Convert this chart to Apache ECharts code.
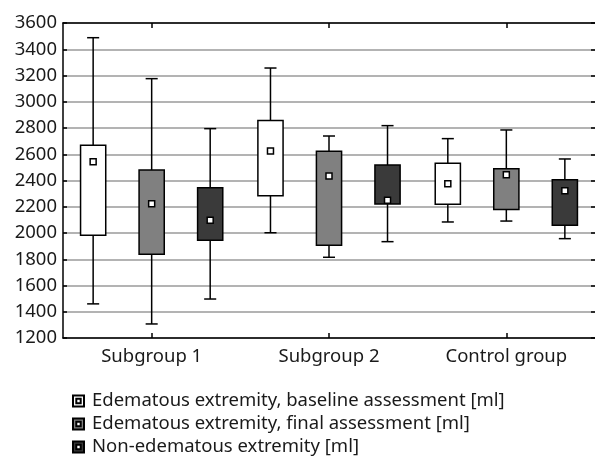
<!DOCTYPE html>
<html>
<head>
<meta charset="utf-8">
<script src="https://cdn.jsdelivr.net/npm/echarts@6/dist/echarts.min.js"></script>
<style>html,body{margin:0;padding:0;background:#fff}#c{width:595px;height:460px}</style>
</head>
<body>
<div id="c"></div>
<script>
const categories = ['Subgroup 1', 'Subgroup 2', 'Control group'];
const seriesNames = [
  'Edematous extremity, baseline assessment [ml]',
  'Edematous extremity, final assessment [ml]',
  'Non-edematous extremity [ml]'
];
// each row: [min, q1, q3, max, mean] per category
const baseline = [
  [1460, 1982, 2668, 3488, 2543],
  [2002, 2284, 2858, 3257, 2625],
  [2084, 2219, 2531, 2719, 2376]
];
const finalAssess = [
  [1307, 1838, 2480, 3176, 2223],
  [1815, 1906, 2622, 2739, 2434],
  [2091, 2180, 2490, 2785, 2444]
];
const nonEdematous = [
  [1497, 1944, 2345, 2795, 2097],
  [1934, 2221, 2518, 2818, 2249],
  [1957, 2059, 2406, 2564, 2322]
];
const yTicks = { min: 1200, max: 3600, interval: 200 };

const allData = [baseline, finalAssess, nonEdematous];
const fills = ['#ffffff', '#808080', '#3a3a3a'];
const offsets = [-0.33, 0, 0.33];

function renderItem(params, api) {
  const cat = api.value(0);
  const band = api.size([1, 0])[0];
  const off = offsets[params.seriesIndex] * band;
  const bw = band * 0.142;
  const cw = band * 0.068;
  const x = api.coord([cat, api.value(1)])[0] + off;
  const yMin = api.coord([cat, api.value(1)])[1];
  const yQ1 = api.coord([cat, api.value(2)])[1];
  const yQ3 = api.coord([cat, api.value(3)])[1];
  const yMax = api.coord([cat, api.value(4)])[1];
  const yMean = api.coord([cat, api.value(5)])[1];
  const ls = { stroke: '#000', lineWidth: 1.5 };
  return {
    type: 'group',
    children: [
      { type: 'line', shape: { x1: x, y1: yMax, x2: x, y2: yQ3 }, style: ls },
      { type: 'line', shape: { x1: x, y1: yQ1, x2: x, y2: yMin }, style: ls },
      { type: 'line', shape: { x1: x - cw / 2, y1: yMax, x2: x + cw / 2, y2: yMax }, style: ls },
      { type: 'line', shape: { x1: x - cw / 2, y1: yMin, x2: x + cw / 2, y2: yMin }, style: ls },
      { type: 'rect', shape: { x: x - bw / 2, y: yQ3, width: bw, height: yQ1 - yQ3 },
        style: { fill: fills[params.seriesIndex], stroke: '#000', lineWidth: 1.5 } },
      { type: 'rect', shape: { x: x - 3, y: yMean - 3, width: 6, height: 6 },
        style: { fill: '#fff', stroke: '#000', lineWidth: 1.5 } }
    ]
  };
}

const series = seriesNames.map((name, i) => ({
  name: name,
  type: 'custom',
  renderItem: renderItem,
  itemStyle: { color: fills[i], borderColor: '#000', borderWidth: 1 },
  encode: { x: 0, y: [1, 2, 3, 4, 5] },
  data: allData[i].map((r, ci) => [ci].concat(r))
}));

const chart = echarts.init(document.getElementById('c'), null, { renderer: 'canvas' });
const font = 'Noto Sans';
chart.setOption({
  animation: false,
  backgroundColor: '#fff',
  grid: { left: 63, right: 0, top: 23, bottom: 122 },
  legend: {
    orient: 'vertical',
    left: 72,
    top: 391,
    padding: 0,
    itemWidth: 11,
    itemHeight: 11,
    itemGap: 3,
    icon: 'path://M0 0H10V10H0Z M3 3V7H7V3Z',
    textStyle: { fontFamily: font, fontSize: 18.5, lineHeight: 20, color: '#1a1a1a', padding: [0, 0, 0, 3] },
    data: seriesNames
  },
  xAxis: [
    {
      type: 'category', data: categories, position: 'bottom',
      axisLine: { lineStyle: { color: '#000', width: 1.5 } },
      axisTick: { show: true, inside: true, alignWithLabel: true, length: 5, lineStyle: { color: '#000', width: 1.5 } },
      axisLabel: { fontFamily: font, fontSize: 18.5, color: '#1a1a1a', margin: 9 },
      splitLine: { show: false }
    },
    {
      type: 'category', data: categories, position: 'top',
      axisLine: { lineStyle: { color: '#000', width: 1.5 } },
      axisTick: { show: true, inside: true, alignWithLabel: true, length: 5, lineStyle: { color: '#000', width: 1.5 } },
      axisLabel: { show: false },
      splitLine: { show: false }
    }
  ],
  yAxis: [
    {
      type: 'value', min: yTicks.min, max: yTicks.max, interval: yTicks.interval,
      axisLine: { show: true, lineStyle: { color: '#000', width: 1.5 } },
      axisTick: { show: true, inside: true, length: 4, lineStyle: { color: '#000', width: 1.5 } },
      axisLabel: { fontFamily: font, fontSize: 18.5, color: '#1a1a1a', margin: 6, formatter: v => String(v) },
      splitLine: { show: true, lineStyle: { color: '#9a9a9a', width: 1.5 } }
    },
    {
      type: 'value', min: yTicks.min, max: yTicks.max, interval: yTicks.interval, position: 'right',
      axisLine: { show: false },
      axisTick: { show: true, inside: true, length: 4, lineStyle: { color: '#000', width: 1.5 } },
      axisLabel: { show: false },
      splitLine: { show: false }
    }
  ],
  series: series
});
</script>
</body>
</html>
